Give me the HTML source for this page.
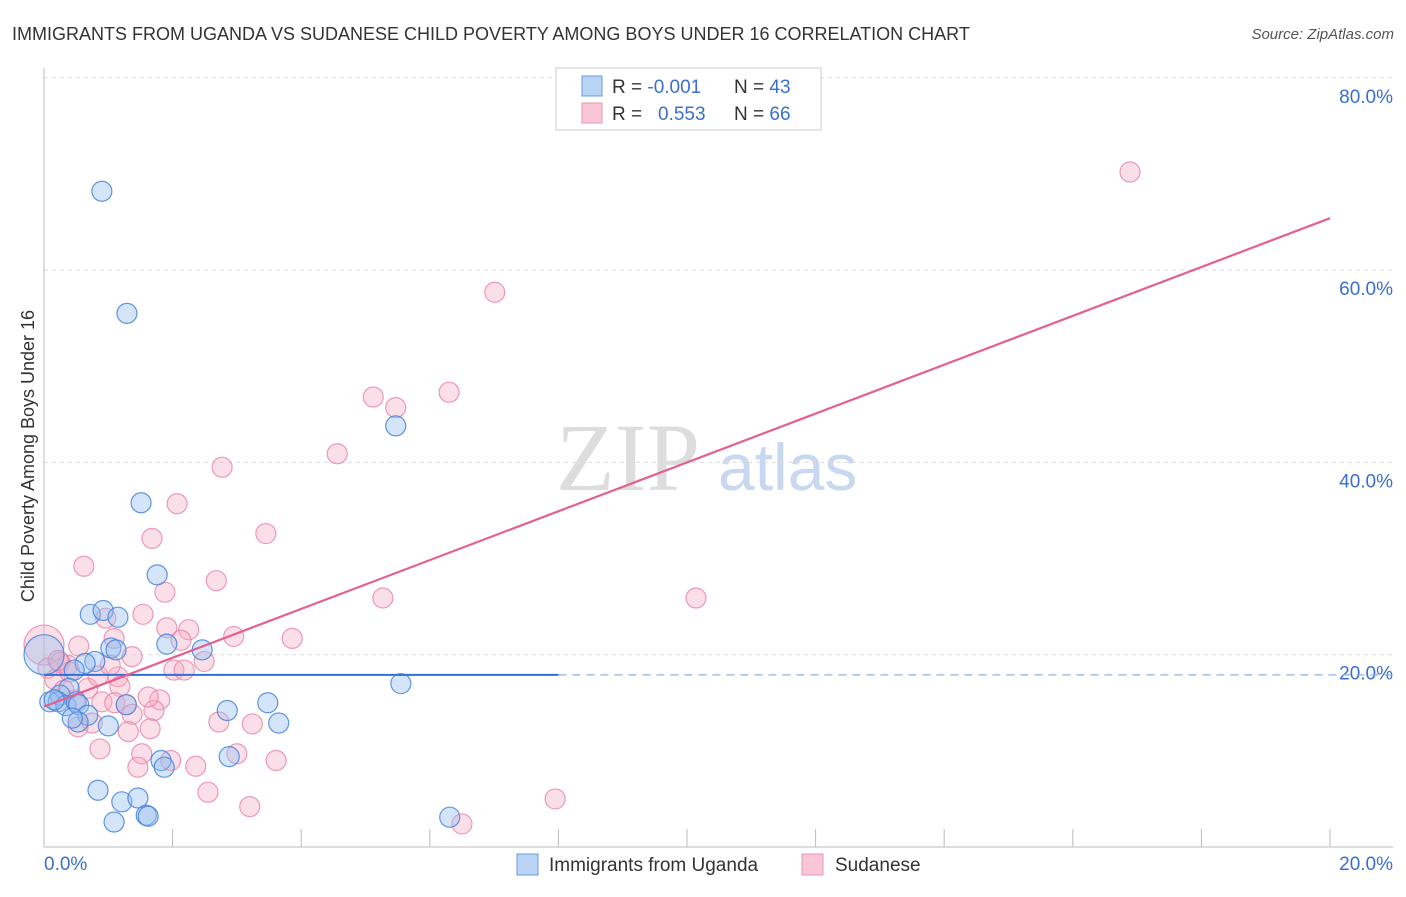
<!DOCTYPE html>
<html><head><meta charset="utf-8"><style>
body{margin:0;background:#fff;font-family:"Liberation Sans",sans-serif}
</style></head><body>
<svg id="c" width="1406" height="892" xmlns="http://www.w3.org/2000/svg">
<text x="12" y="40" font-size="18" fill="#333">IMMIGRANTS FROM UGANDA VS SUDANESE CHILD POVERTY AMONG BOYS UNDER 16 CORRELATION CHART</text>
<text x="1394" y="39" font-size="15" fill="#555" font-style="italic" text-anchor="end">Source: ZipAtlas.com</text>
<text x="556" y="490" font-size="96" fill="#ddd" font-family="Liberation Serif">ZIP</text>
<text x="718" y="490" font-size="66" fill="#c8d8f0">atlas</text>
<text transform="translate(34,456) rotate(-90)" font-size="18" fill="#333" text-anchor="middle">Child Poverty Among Boys Under 16</text>
<g id="grid"></g><g id="axes"></g><g id="pts"></g><g id="lines"></g>
<g>
<rect x="556" y="68" width="265" height="62" fill="#fff" stroke="#ccc"/>
<rect x="582" y="76" width="20" height="20" fill="#b9d3f5" stroke="#6a9ae0"/>
<rect x="582" y="103" width="20" height="20" fill="#f9c6d6" stroke="#e996b2"/>
<text x="612" y="93" font-size="19" fill="#333">R = <tspan fill="#3a6fd0">-0.001</tspan></text>
<text x="734" y="93" font-size="19" fill="#333">N = <tspan fill="#3a6fd0">43</tspan></text>
<text x="612" y="120" font-size="19" fill="#333">R = <tspan fill="#3a6fd0" x="658">0.553</tspan></text>
<text x="734" y="120" font-size="19" fill="#333">N = <tspan fill="#3a6fd0">66</tspan></text>
</g>
<g>
<rect x="517" y="854" width="21" height="21" fill="#b9d3f5" stroke="#6a9ae0"/>
<text x="549" y="871" font-size="19" fill="#333">Immigrants from Uganda</text>
<rect x="802" y="854" width="21" height="21" fill="#f9c6d6" stroke="#e996b2"/>
<text x="835" y="871" font-size="19" fill="#333">Sudanese</text>
</g>
</svg>
<script>
const yTicks=[20,40,60,80];
const yTickLabels=["20.0%","40.0%","60.0%","80.0%"];
const xTickCount=10;
const ugX=[0.90,1.29,1.51,1.76,5.47,0.72,0.92,1.15,1.91,2.46,1.04,1.12,0,0.79,0.64,0.47,0.39,0.25,0.09,0.22,0.34,0.50,0.54,0.68,0.53,1.00,1.28,2.85,3.48,3.65,2.88,1.82,1.87,5.55,0.84,1.21,1.46,1.09,1.59,1.62,6.31,0.16,0.44];
const ugY=[68.2,55.5,35.8,28.3,43.8,24.2,24.6,23.9,21.1,20.5,20.7,20.5,20.0,19.3,19.1,18.4,16.5,15.8,15.1,15.1,14.7,15.1,14.8,13.7,13.0,12.6,14.8,14.2,15.0,12.9,9.4,9.0,8.3,17.0,5.9,4.7,5.1,2.6,3.3,3.2,3.1,15.3,13.4];
const suX=[16.89,7.01,5.12,5.47,6.30,4.56,2.77,2.07,3.45,1.68,0.62,2.68,5.27,10.14,1.88,1.54,0.96,1.91,2.25,2.95,3.86,1.09,2.13,0,0.54,1.37,2.49,0.06,0.37,1.15,1.18,0.68,2.02,2.18,1.80,0.90,1.10,1.28,1.71,1.37,0.75,0.53,2.72,3.24,1.31,1.65,0.87,1.52,3.00,1.97,3.61,1.46,2.36,2.55,3.20,7.95,6.50,0.17,0.25,0.40,0.84,0.48,1.62,0.31,0.22,1.03];
const suY=[70.2,57.7,46.8,45.7,47.3,40.9,39.5,35.7,32.6,32.1,29.2,27.7,25.9,25.9,26.5,24.2,23.8,22.8,22.6,21.9,21.7,21.7,21.5,21.0,20.9,19.8,19.3,18.6,18.9,17.7,16.7,16.5,18.4,18.4,15.3,15.1,15.0,14.8,14.2,13.8,12.9,12.5,13.0,12.8,12.0,12.3,10.2,9.7,9.7,9.0,9.0,8.3,8.4,5.7,4.2,5.0,2.4,17.4,19.2,18.2,17.8,15.3,15.6,16.3,19.4,18.9];
const ugTrend=[17.9,17.9];
const suTrend=[14.6,65.4];
const NS="http://www.w3.org/2000/svg";
const sx=v=>44+v/20*1286, sy=v=>847-v*9.615;
function mk(p,t,a){const e=document.createElementNS(NS,t);for(const k in a)e.setAttribute(k,a[k]);document.getElementById(p).appendChild(e);return e;}
yTicks.forEach((t,i)=>{
 const g=mk('grid','line',{x1:44,x2:1393,y1:sy(t),y2:sy(t),stroke:'#ddd','stroke-dasharray':'4,4'});
 
 
 const l=mk('grid','text',{x:1393,y:sy(t)+25,'font-size':19,fill:'#3a6fd0','text-anchor':'end'});
 l.textContent=yTickLabels[i];
 
 
});
let a=mk('axes','line',{x1:44,x2:44,y1:68,y2:847,stroke:'#bbb'});


a=mk('axes','line',{x1:44,x2:1393,y1:847,y2:847,stroke:'#bbb'});


for(let i=1;i<=xTickCount;i++){const t=mk('axes','line',{x1:sx(i*2),x2:sx(i*2),y1:829,y2:847,stroke:'#bbb'});
 
 }
let xl=mk('axes','text',{x:44,y:870,'font-size':19,fill:'#3a6fd0'});xl.textContent='0.0%';


xl=mk('axes','text',{x:1393,y:870,'font-size':19,fill:'#3a6fd0','text-anchor':'end'});xl.textContent='20.0%';


function dots(X,Y,fill,stroke,name){X.forEach((x,i)=>{const r=(x===0)?20:10;
 const c=mk('pts','circle',{cx:sx(x),cy:sy(Y[i]),r:r,fill:fill,stroke:stroke,'stroke-width':1.2});
 
 });}
dots(suX,suY,'rgba(246,176,198,0.4)','rgba(232,130,165,0.8)','point-sudanese');
dots(ugX,ugY,'rgba(150,190,240,0.4)','rgba(70,130,220,0.85)','point-uganda');
let ln=mk('lines','line',{x1:44,x2:sx(8),y1:sy(ugTrend[0]),y2:sy(ugTrend[1]),stroke:'#2f6fd6','stroke-width':2});


ln=mk('lines','line',{x1:sx(8),x2:1393,y1:sy(ugTrend[1]),y2:sy(ugTrend[1]),stroke:'#8fb0e6','stroke-width':1.2,'stroke-dasharray':'8,6'});


ln=mk('lines','line',{x1:44,x2:sx(20),y1:sy(suTrend[0]),y2:sy(suTrend[1]),stroke:'#e4608e','stroke-width':2.2});


</script>
</body></html>
